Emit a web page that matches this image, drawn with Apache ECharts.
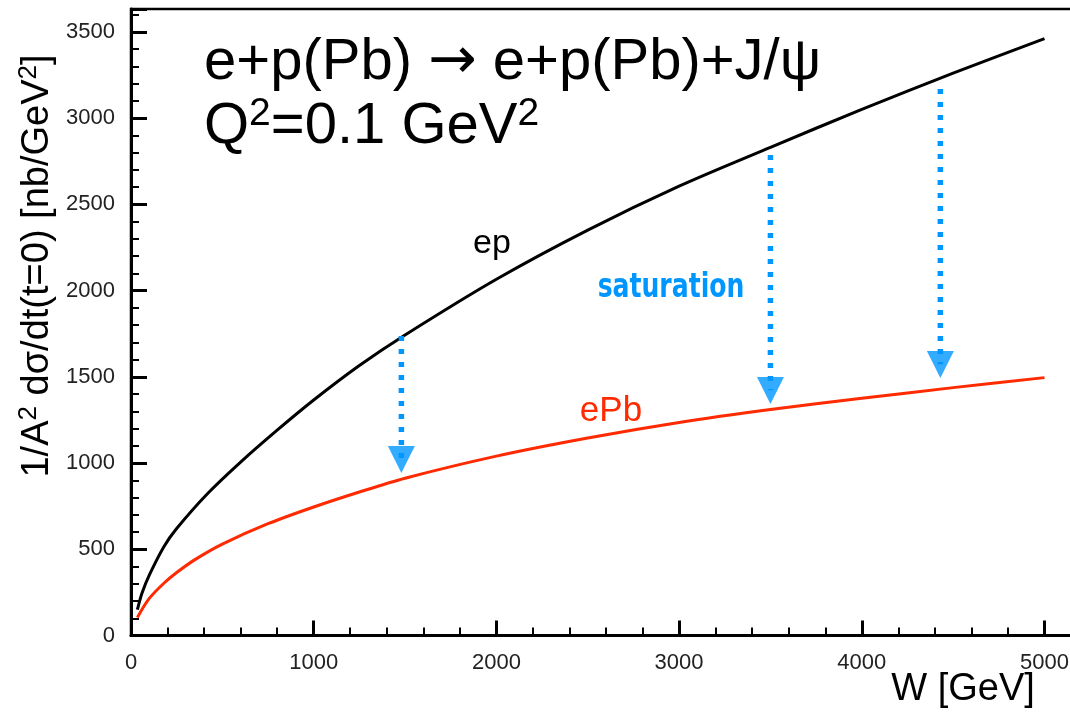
<!DOCTYPE html>
<html>
<head>
<meta charset="utf-8">
<script src="https://cdn.jsdelivr.net/npm/echarts@6/dist/echarts.min.js"></script>
<style>
html,body{margin:0;padding:0;background:#fff;}
#main{width:1070px;height:723px;}
</style>
</head>
<body>
<div id="main"></div>
<script>
// ---- data ----
const epW   = [35, 60, 100, 180, 250, 417, 600, 800, 1000, 1250, 1500, 2000, 2500, 3000, 3500, 4000, 4500, 5000];
const epV   = [150, 245, 350, 515, 620, 820, 1005, 1190, 1365, 1565, 1742, 2065, 2350, 2605, 2830, 3050, 3260, 3460];
const ePbW  = [35, 100, 180, 250, 350, 500, 750, 1000, 1250, 1500, 2000, 2500, 3000, 3500, 4000, 4500, 5000];
const ePbV  = [105, 215, 303, 365, 440, 530, 648, 745, 832, 912, 1040, 1145, 1235, 1310, 1375, 1437, 1495];
const arrowW    = [1480, 3500, 4430];
const arrowTop  = [1737, 2786, 3168];
const arrowTip  = [942, 1342, 1493];
const xTicks = [0, 1000, 2000, 3000, 4000, 5000];
const yTicks = [0, 500, 1000, 1500, 2000, 2500, 3000, 3500];

const BLUE = '#0096ff';
const RED = '#ff2a00';
const FONT = 'Liberation Sans, Arial, Helvetica, sans-serif';

const chart = echarts.init(document.getElementById('main'), null, {renderer: 'canvas'});

const series = [
  {
    type: 'line', name: 'ep', smooth: 0.3, symbol: 'none',
    data: epW.map((w, i) => [w, epV[i]]),
    lineStyle: {color: '#000', width: 3}, z: 3
  },
  {
    type: 'line', name: 'ePb', smooth: 0.3, symbol: 'none',
    data: ePbW.map((w, i) => [w, ePbV[i]]),
    lineStyle: {color: RED, width: 3}, z: 3
  }
];
arrowW.forEach((w, i) => {
  series.push({
    type: 'line', symbol: 'none', silent: true,
    data: [[w, arrowTop[i]], [w, arrowTip[i] + 80]],
    lineStyle: {color: BLUE, width: 5.5, type: [5, 8], cap: 'butt'}, z: 4
  });
});
series.push({
  type: 'scatter', silent: true,
  data: arrowW.map((w, i) => [w, arrowTip[i]]),
  symbol: 'triangle', symbolRotate: 180, symbolSize: [27, 27],
  symbolOffset: [0, '-50%'],
  itemStyle: {color: BLUE}, z: 5
});

const labelCommon = {color: '#222', fontSize: 22, fontFamily: FONT, showMaxLabel: false, margin: 16};

chart.setOption({
  animation: false,
  backgroundColor: '#fff',
  grid: {left: 131, top: 9, right: -5, bottom: 87.5, containLabel: false, outerBoundsMode: 'none',
         show: true, borderColor: '#000', borderWidth: 2.5, backgroundColor: 'transparent'},
  xAxis: {
    type: 'value', min: 0, max: 5167, interval: 1000,
    axisLine: {show: true, onZero: false, lineStyle: {color: '#000', width: 3}},
    splitLine: {show: false},
    axisTick: {show: true, inside: true, length: 15, lineStyle: {color: '#000', width: 3}},
    minorTick: {show: true, splitNumber: 5, length: 8, lineStyle: {color: '#000', width: 2}},
    axisLabel: Object.assign({}, labelCommon, {formatter: v => xTicks.includes(v) ? String(v) : ''})
  },
  yAxis: {
    type: 'value', min: 0, max: 3632, interval: 500,
    axisLine: {show: true, onZero: false, lineStyle: {color: '#000', width: 3}},
    splitLine: {show: false},
    axisTick: {show: true, inside: true, length: 16, lineStyle: {color: '#000', width: 3}},
    minorTick: {show: true, splitNumber: 5, length: 8, lineStyle: {color: '#000', width: 2}},
    axisLabel: Object.assign({}, labelCommon, {formatter: v => yTicks.includes(v) ? String(v) : ''})
  },
  series: series,
  graphic: [
    {
      type: 'text', left: 204, top: 31, z: 10,
      style: {
        text: 'e+p(Pb) {a|→} e+p(Pb)+J/ψ', fill: '#000', fontSize: 58, fontFamily: FONT, lineHeight: 64,
        rich: {a: {fontSize: 58, fontFamily: 'DejaVu Sans, sans-serif', lineHeight: 64, fill: '#000'}}
      }
    },
    {
      type: 'text', left: 204, top: 95, z: 10,
      style: {
        text: 'Q{s|2}=0.1 GeV{s|2}', fill: '#000', fontSize: 58, fontFamily: FONT, lineHeight: 64,
        rich: {s: {fontSize: 39, fontFamily: FONT, verticalAlign: 'top', lineHeight: 43, fill: '#000'}}
      }
    },
    {
      type: 'text', x: 38, y: 266, rotation: Math.PI / 2, z: 10,
      style: {
        text: '1/A{s|2} dσ/dt(t=0) [nb/GeV{s|2}]', fill: '#000', fontSize: 38, fontFamily: FONT, lineHeight: 44,
        align: 'center', verticalAlign: 'middle',
        rich: {s: {fontSize: 26, fontFamily: FONT, verticalAlign: 'top', lineHeight: 30, fill: '#000'}}
      }
    },
    {
      type: 'text', x: 963, y: 690, z: 10,
      style: {text: 'W [GeV]', fill: '#000', fontSize: 38, fontFamily: FONT, align: 'center', verticalAlign: 'middle'}
    },
    {
      type: 'text', x: 492, y: 244, z: 10,
      style: {text: 'ep', fill: '#000', fontSize: 34, fontFamily: FONT, align: 'center', verticalAlign: 'middle'}
    },
    {
      type: 'text', x: 611, y: 411, z: 10,
      style: {text: 'ePb', fill: RED, fontSize: 35, fontFamily: FONT, align: 'center', verticalAlign: 'middle'}
    },
    {
      type: 'text', x: 671, y: 288, z: 10, scaleX: 0.82,
      style: {text: 'saturation', fill: BLUE, fontSize: 34, fontWeight: 'bold', fontFamily: 'Liberation Sans Narrow, DejaVu Sans Condensed, DejaVu Sans, sans-serif', align: 'center', verticalAlign: 'middle'}
    }
  ]
});
</script>
</body>
</html>
